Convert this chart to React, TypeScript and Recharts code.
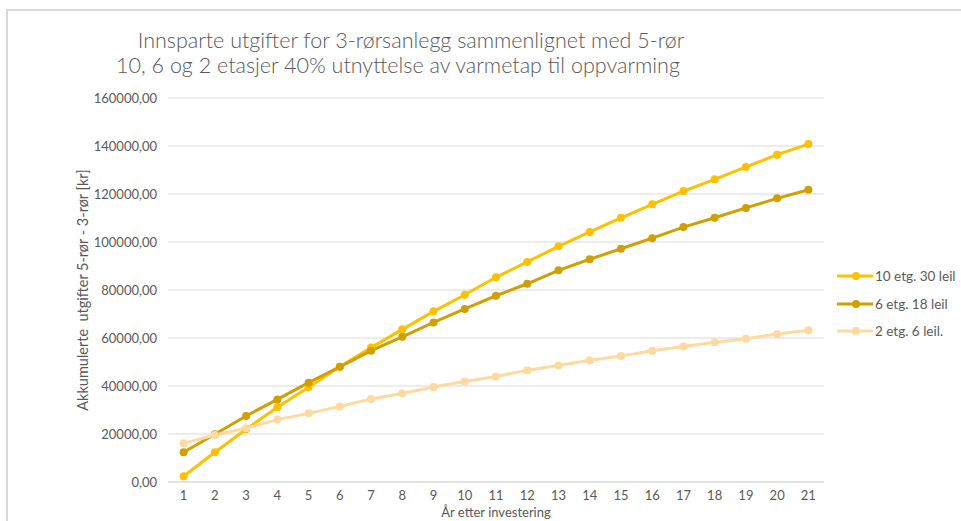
import React from "react";
import { LineChart, Line, XAxis, YAxis, CartesianGrid } from "recharts";

const years = [1, 2, 3, 4, 5, 6, 7, 8, 9, 10, 11, 12, 13, 14, 15, 16, 17, 18, 19, 20, 21];

const etg10 = [2400, 12400, 22000, 31100, 39500, 48000, 56000, 63600, 71100, 78000, 85300, 91700, 98200, 104200, 110100, 115700, 121200, 126100, 131300, 136400, 140800];
const etg6 = [12400, 19900, 27500, 34400, 41400, 48000, 54700, 60500, 66500, 72100, 77600, 82600, 88200, 92800, 97200, 101600, 106200, 110100, 114200, 118200, 121800];
const etg2 = [16100, 19600, 22400, 26000, 28600, 31500, 34600, 36900, 39600, 41900, 44000, 46600, 48500, 50700, 52500, 54700, 56500, 58200, 59700, 61700, 63200];

const yTicks = [0, 20000, 40000, 60000, 80000, 100000, 120000, 140000, 160000];

const series = [
  { key: "etg10", name: "10 etg. 30 leil", color: "#FFC000" },
  { key: "etg6", name: "6 etg. 18 leil", color: "#D1A000" },
  { key: "etg2", name: "2 etg. 6 leil.", color: "#FFD9A0" },
];

const data = years.map((year, i) => ({
  year,
  etg10: etg10[i],
  etg6: etg6[i],
  etg2: etg2[i],
}));

// tick marks sit between the categories, like Excel
const boundaries = [...years.map((y) => y - 0.5), years[years.length - 1] + 0.5];

const font = "Lato, 'Open Sans', sans-serif";
const grey = "#595959";

export default function App() {
  return (
    <div
      style={{
        position: "fixed",
        left: 0,
        top: 0,
        width: 961,
        height: 521,
        background: "#fff",
        overflow: "hidden",
        fontFamily: font,
      }}
    >
      <div
        style={{
          position: "absolute",
          left: 6,
          top: 9,
          right: -10,
          bottom: -10,
          borderLeft: "2px solid #D9D9D9",
          borderTop: "2px solid #D9D9D9",
        }}
      />

      <div style={{ position: "absolute", left: 0, width: 822, top: 27, textAlign: "center", fontSize: 21.5, color: grey, fontWeight: 300 }}>
        Innsparte utgifter for 3-rørsanlegg sammenlignet med 5-rør
      </div>
      <div style={{ position: "absolute", left: 0, width: 796, top: 52, textAlign: "center", fontSize: 21.5, color: grey, fontWeight: 300 }}>
        10, 6 og 2 etasjer 40% utnyttelse av varmetap til oppvarming
      </div>

      <div
        style={{
          position: "absolute",
          left: 82,
          top: 290,
          transform: "translate(-50%, -50%) rotate(-90deg)",
          whiteSpace: "pre",
          fontSize: 14.5,
          color: grey,
        }}
      >
        Akkumulerte  utgifter 5-rør - 3-rør [kr]
      </div>

      <div style={{ position: "absolute", left: 0, top: 0 }}>
        <LineChart
          width={961}
          height={521}
          data={data}
          margin={{ top: 98, right: 137, bottom: 0, left: 60 }}
        >
          <CartesianGrid vertical={false} stroke="#D9D9D9" />
          <XAxis
            xAxisId="marks"
            type="number"
            dataKey="year"
            domain={[0.5, 21.5]}
            ticks={boundaries}
            tickFormatter={() => ""}
            axisLine={false}
            tickLine={{ stroke: "#D9D9D9" }}
            tickSize={5}
            height={0}
            interval={0}
          />
          <XAxis
            type="number"
            dataKey="year"
            domain={[0.5, 21.5]}
            ticks={years}
            interval={0}
            height={39}
            tickLine={false}
            tickSize={0}
            tickMargin={9}
            axisLine={{ stroke: "#D9D9D9" }}
            tick={{ fill: grey, fontSize: 13, fontFamily: font }}
            label={{
              value: "År etter  investering",
              position: "insideBottom",
              offset: 4,
              fill: grey,
              fontSize: 13,
              fontFamily: font,
              style: { whiteSpace: "pre" },
            }}
          />
          <YAxis
            width={108}
            domain={[0, 160000]}
            ticks={yTicks}
            interval={0}
            axisLine={false}
            tickLine={false}
            tickSize={0}
            tickMargin={11}
            tick={{ fill: grey, fontSize: 13, fontFamily: font }}
            tickFormatter={(v) => `${v},00`}
          />
          {series.map((s) => (
            <Line
              key={s.key}
              type="linear"
              dataKey={s.key}
              name={s.name}
              stroke={s.color}
              strokeWidth={3}
              dot={{ r: 4, fill: s.color, stroke: s.color, strokeWidth: 0 }}
              isAnimationActive={false}
            />
          ))}
        </LineChart>
      </div>

      {series.map((s, i) => (
        <div
          key={s.key}
          style={{
            position: "absolute",
            left: 837,
            top: 267 + i * 27.5,
            display: "flex",
            alignItems: "center",
            height: 18,
            fontSize: 13.5,
            color: grey,
          }}
        >
          <svg width={37} height={18} style={{ marginRight: 1 }}>
            <line x1={0} y1={9} x2={36} y2={9} stroke={s.color} strokeWidth={3} />
            <circle cx={19} cy={9} r={4} fill={s.color} />
          </svg>
          {s.name}
        </div>
      ))}
    </div>
  );
}
